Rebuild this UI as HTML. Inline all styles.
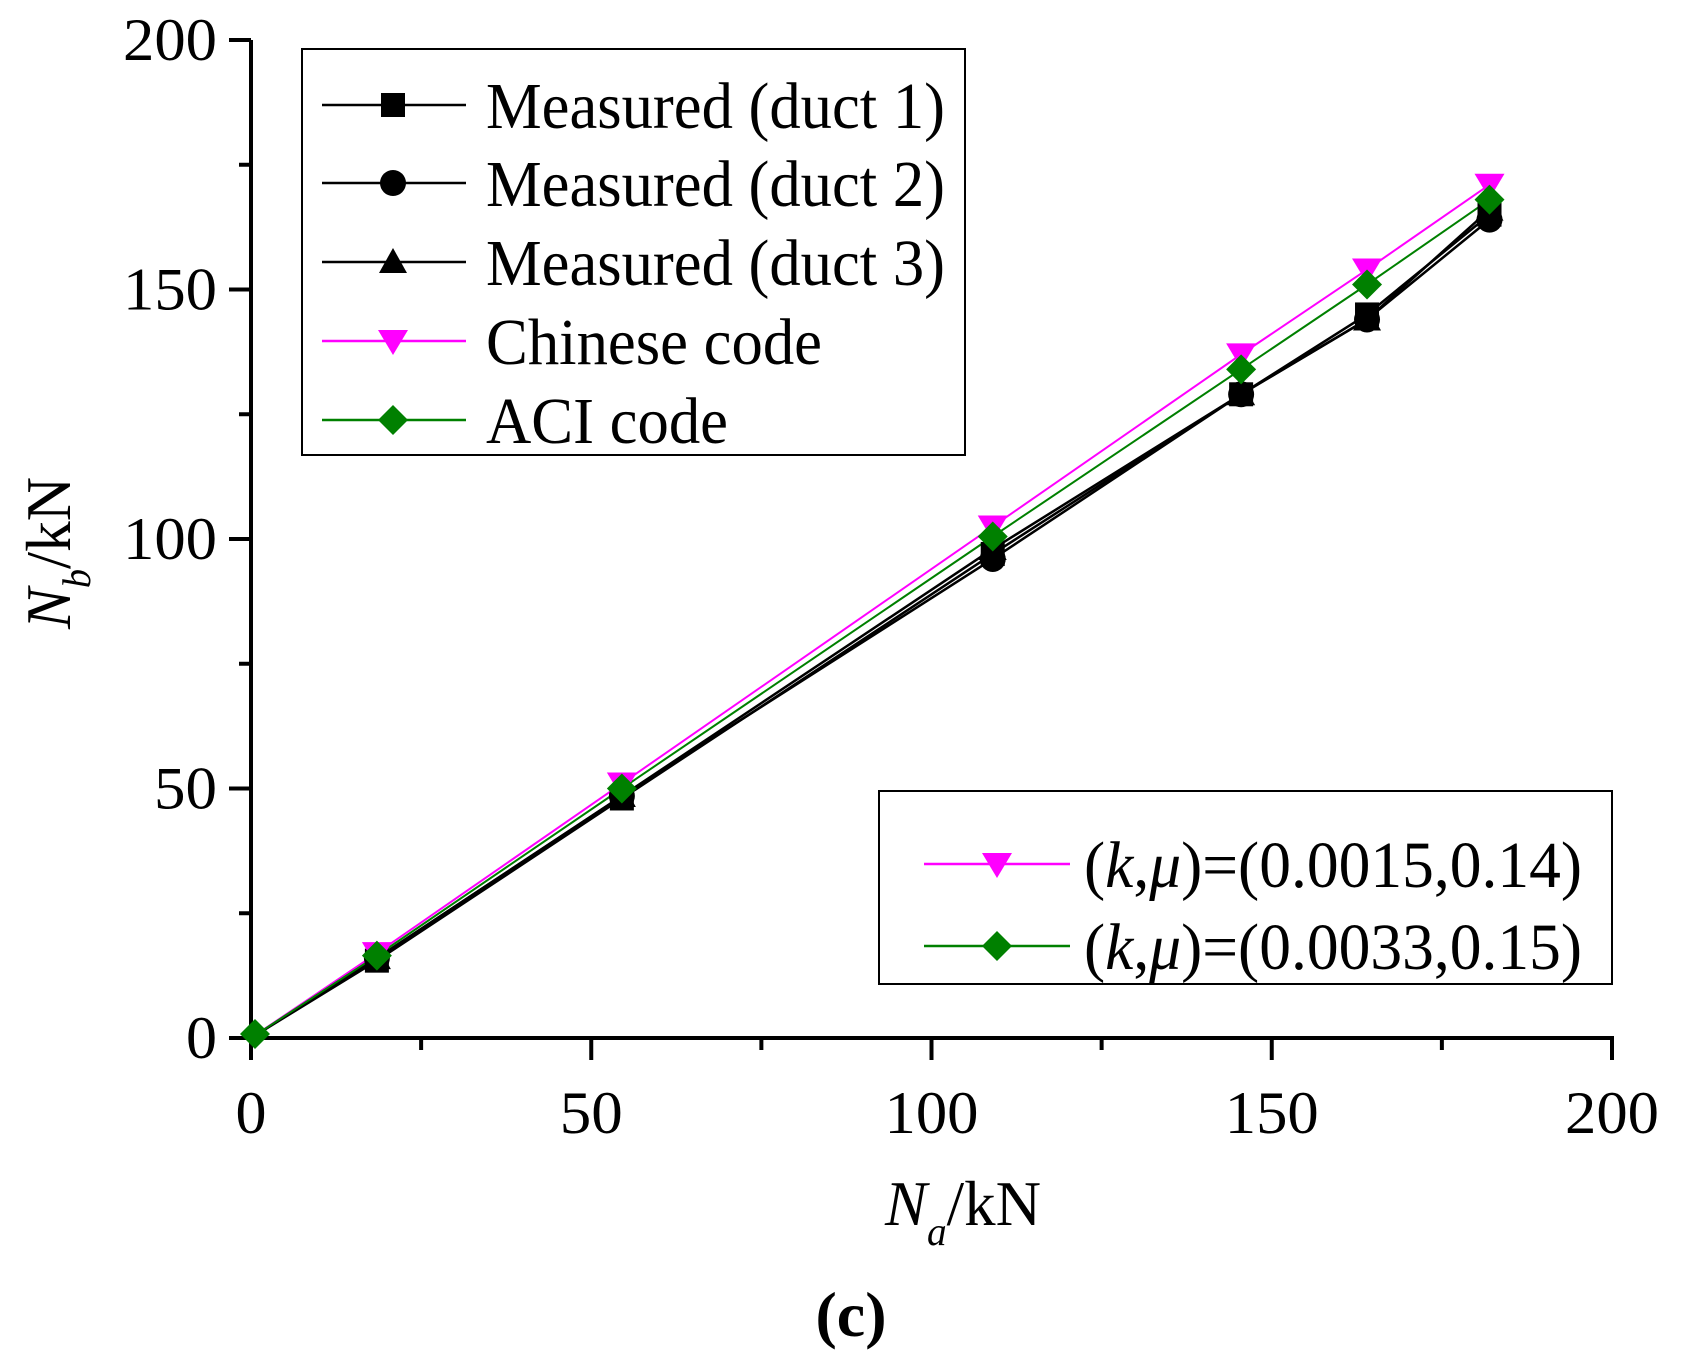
<!DOCTYPE html>
<html><head><meta charset="utf-8"><style>
html,body{margin:0;padding:0;background:#fff;}
svg{display:block;font-family:"Liberation Serif","Times New Roman",serif;}
</style></head><body>
<svg id="s" width="1682" height="1361" viewBox="0 0 1682 1361" xmlns="http://www.w3.org/2000/svg"></svg>
<script>
const s=document.getElementById('s');
const X=v=>251+6.805*v, Y=v=>1038-4.99*v;
let h='';
h+=`<line x1="251" y1="40" x2="251" y2="1040" stroke="#000" stroke-width="4"/>`;
h+=`<line x1="249" y1="1038" x2="1614" y2="1038" stroke="#000" stroke-width="4"/>`;
for(let v=0;v<=200;v+=25){
  const maj=v%50==0;
  const x=X(v); h+=`<line x1="${x}" y1="1038" x2="${x}" y2="${maj?1060:1050}" stroke="#000" stroke-width="4"/>`;
  const y=Y(v); h+=`<line x1="${maj?229:239}" y1="${y}" x2="251" y2="${y}" stroke="#000" stroke-width="4"/>`;
  if(maj){
    const w=v>=100?94:v>0?63:31;
    h+=`<text x="${x}" y="1133" font-size="60" text-anchor="middle" textLength="${w}" lengthAdjust="spacingAndGlyphs">${v}</text>`;
    h+=`<text x="217" y="${y+20}" font-size="60" text-anchor="end" textLength="${w}" lengthAdjust="spacingAndGlyphs">${v}</text>`;
  }
}
const xs=[0,18.5,54.5,109,145.5,164,182];
const series=[
 {d:[0,15.5,48,97,129,145,165],c:'#000',m:'sq',w:2.5},
 {d:[0,16,48.5,96,129,144,164],c:'#000',m:'ci',w:2.5},
 {d:[0,16,48.5,98,129,144,166],c:'#000',m:'tu',w:2.5},
 {d:[0,17,51,102.5,137,154,171],c:'#ff00ff',m:'td',w:2},
 {d:[0,16.5,50,100.5,134,151,168],c:'#008000',m:'di',w:2},
];
function mk(m,x,y,c){
  if(m=='sq')return `<rect x="${x-12}" y="${y-12}" width="24" height="24" fill="${c}"/>`;
  if(m=='ci')return `<circle cx="${x}" cy="${y}" r="13" fill="${c}"/>`;
  if(m=='tu')return `<polygon points="${x},${y-14} ${x-14},${y+11} ${x+14},${y+11}" fill="${c}"/>`;
  if(m=='td')return `<polygon points="${x},${y+14} ${x-15},${y-11} ${x+15},${y-11}" fill="${c}"/>`;
  if(m=='di')return `<polygon points="${x},${y-15} ${x+15},${y} ${x},${y+15} ${x-15},${y}" fill="${c}"/>`;
}
for(const sr of series){
  const pts=xs.map((v,i)=>X(v)+','+Y(sr.d[i])).join(' ');
  h+=`<polyline points="${pts}" fill="none" stroke="${sr.c}" stroke-width="${sr.w}"/>`;
}
for(const sr of series){xs.forEach((v,i)=>{ if(i>0) h+=mk(sr.m,X(v),Y(sr.d[i]),sr.c);});}
h+=mk('di',X(0)+4,Y(0)-4,'#008000');
h+=`<rect x="302" y="49" width="663" height="406" fill="#fff" stroke="#000" stroke-width="2"/>`;
const labs=['Measured (duct 1)','Measured (duct 2)','Measured (duct 3)','Chinese code','ACI code'];
const lw=[459,459,459,336,242];
const ly=[105,183,262,341,420];
labs.forEach((l,i)=>{const sr=series[i];
 h+=`<line x1="322" y1="${ly[i]}" x2="466" y2="${ly[i]}" stroke="${sr.c}" stroke-width="2.5"/>`;
 h+=mk(sr.m,393,ly[i],sr.c);
 h+=`<text x="486" y="${ly[i]+23}" font-size="66" textLength="${lw[i]}" lengthAdjust="spacingAndGlyphs">${l}</text>`;});
h+=`<rect x="879" y="791" width="733" height="193" fill="#fff" stroke="#000" stroke-width="2"/>`;
[[864,3,'0.0015,0.14'],[946,4,'0.0033,0.15']].forEach(([y,i,t])=>{const sr=series[i];
 h+=`<line x1="924" y1="${y}" x2="1070" y2="${y}" stroke="${sr.c}" stroke-width="2.5"/>`;
 h+=mk(sr.m,997,y,sr.c);
 h+=`<text x="1084" y="${y+23}" font-size="66" textLength="498" lengthAdjust="spacingAndGlyphs">(<tspan font-style="italic">k</tspan>,<tspan font-style="italic">μ</tspan>)=(${t})</text>`;});
h+=`<text x="885" y="1225" font-size="64" textLength="156" lengthAdjust="spacingAndGlyphs"><tspan font-style="italic">N</tspan><tspan font-style="italic" font-size="40" dy="20">a</tspan><tspan dy="-20">/kN</tspan></text>`;
h+=`<text transform="translate(70,629) rotate(-90)" font-size="64" textLength="152" lengthAdjust="spacingAndGlyphs"><tspan font-style="italic">N</tspan><tspan font-style="italic" font-size="40" dy="20">b</tspan><tspan dy="-20">/kN</tspan></text>`;
h+=`<text x="851" y="1336" font-size="64" font-weight="bold" text-anchor="middle">(c)</text>`;
s.innerHTML=h;
</script>
</body></html>
